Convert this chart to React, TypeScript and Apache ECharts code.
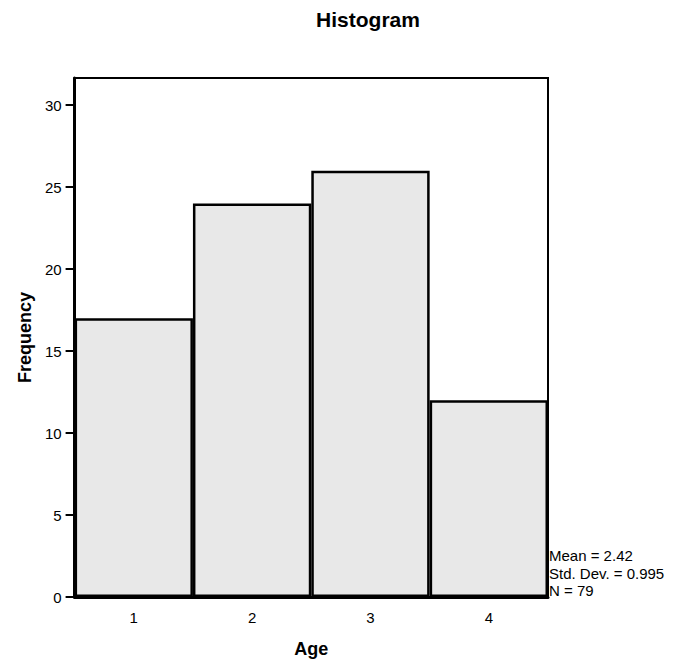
import React, { useEffect, useRef } from "react";
import * as echarts from "echarts";

// Age histogram (frequency of each age group)
const ageGroups = ["1", "2", "3", "4"];
const frequencies = [17, 24, 26, 12];
const statsLines = ["Mean = 2.42", "Std. Dev. = 0.995", "N = 79"];

const FONT = "'Liberation Sans', Arial, sans-serif";

export default function App() {
  const ref = useRef<HTMLDivElement>(null);

  useEffect(() => {
    if (!ref.current) return;
    const chart = echarts.init(ref.current, undefined, { renderer: "svg" });
    chart.setOption({
      animation: false,
      backgroundColor: "#ffffff",
      title: {
        text: "Histogram",
        left: 355,
        top: -4,
        textAlign: "center",
        textStyle: { fontFamily: FONT, fontSize: 21, fontWeight: "bold", color: "#000" },
      },
      grid: {
        left: 65,
        top: 70,
        width: 475,
        height: 519,
        show: true,
        borderColor: "#000",
        borderWidth: 2,
        backgroundColor: "transparent",
      },
      xAxis: {
        type: "category",
        data: ageGroups,
        name: "Age",
        nameLocation: "middle",
        nameGap: 43,
        nameTextStyle: { fontFamily: FONT, fontSize: 18, fontWeight: "bold", color: "#000" },
        axisLine: { lineStyle: { color: "#000", width: 3 } },
        axisTick: { alignWithLabel: true, length: 9, lineStyle: { color: "#000", width: 2 } },
        axisLabel: { fontFamily: FONT, fontSize: 15, color: "#000", margin: 13 },
        splitLine: { show: false },
      },
      yAxis: {
        type: "value",
        min: 0,
        max: 31.65,
        interval: 5,
        name: "Frequency",
        nameLocation: "middle",
        nameGap: 40,
        nameTextStyle: { fontFamily: FONT, fontSize: 18, fontWeight: "bold", color: "#000" },
        axisLine: { show: true, lineStyle: { color: "#000", width: 3 } },
        axisTick: { show: true, length: 9, lineStyle: { color: "#000", width: 2 } },
        axisLabel: {
          fontFamily: FONT,
          fontSize: 15,
          color: "#000",
          margin: 13,
          showMaxLabel: false,
        },
        splitLine: { show: false },
      },
      series: [
        {
          type: "bar",
          data: frequencies,
          barCategoryGap: "0%",
          itemStyle: {
            color: "#e8e8e8",
            borderColor: "#000",
            borderWidth: 2.5,
          },
        },
      ],
      graphic: statsLines.map((line, i) => ({
        type: "text",
        left: 541,
        top: 540 + i * 17.5,
        style: { text: line, fontFamily: FONT, fontSize: 15, fill: "#000" },
      })),
    });
    return () => chart.dispose();
  }, []);

  return <div ref={ref} style={{ width: 673, height: 659 }} />;
}
